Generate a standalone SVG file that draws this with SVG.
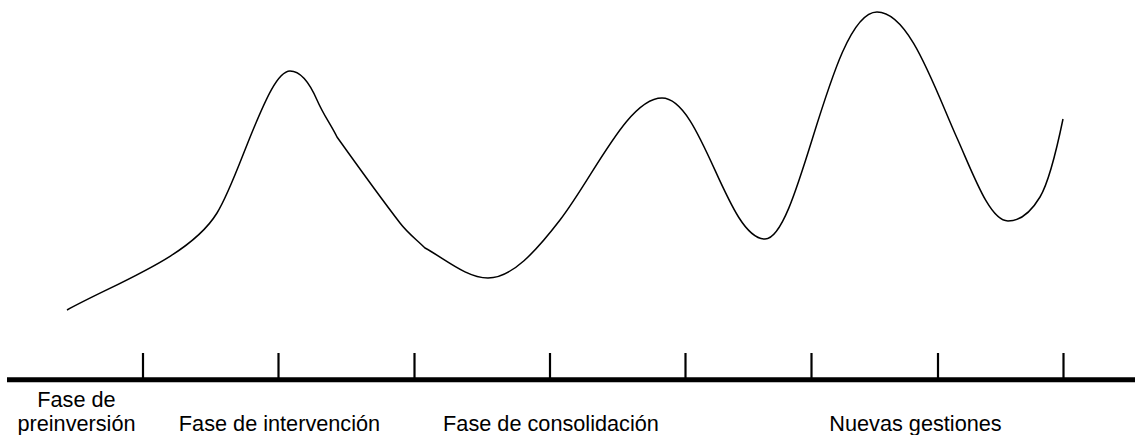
<svg xmlns="http://www.w3.org/2000/svg" width="1135" height="435" viewBox="0 0 1135 435">
  <style>
    .axis { stroke: #000; stroke-width: 5; fill: none; }
    .tick { stroke: #000; stroke-width: 2.2; fill: none; }
    .curve { stroke: #000; stroke-width: 1.5; fill: none; stroke-linejoin: round; stroke-linecap: butt; }
    .lbl { font-family: "Liberation Sans", Arial, sans-serif; font-size: 21.7px; fill: #000; text-anchor: middle; }
  </style>
  <rect x="0" y="0" width="1135" height="435" fill="#fff"/>
  <g id="curve">
    <path class="curve" d="M 67,310
      C 117,282.5 190,257 217,213
      C 229,193.8 241,158.8 253,130
      C 265.3,100.4 278,71 290,71
      C 299,71 308,79.3 317,100
      C 323.7,115.3 330.3,123.6 337,137
      C 358,166.4 379,195.7 400,223
      C 408.3,233.8 416.7,239.7 425,248
      C 446,259.6 467,278 488,278
      C 512,278 536,251.2 560,220
      C 594,175.8 628,98 662,98
      C 702,98 727,239 765,239
      C 800,239 830,12 877,12
      C 909,12 933,84 957,138
      C 974,176 990,221 1008,221
      C 1020,221 1031,212 1040,197
      C 1049,182 1057,148 1063,119"/>
  </g>
  <g id="axis">
    <line class="axis" x1="7" y1="379.8" x2="1135" y2="379.8"/>
    <line class="tick" x1="143" y1="353" x2="143" y2="378"/>
    <line class="tick" x1="278.5" y1="353" x2="278.5" y2="378"/>
    <line class="tick" x1="414.5" y1="353" x2="414.5" y2="378"/>
    <line class="tick" x1="550" y1="353" x2="550" y2="378"/>
    <line class="tick" x1="685.5" y1="353" x2="685.5" y2="378"/>
    <line class="tick" x1="811.5" y1="353" x2="811.5" y2="378"/>
    <line class="tick" x1="938" y1="353" x2="938" y2="378"/>
    <line class="tick" x1="1063.5" y1="353" x2="1063.5" y2="378"/>
  </g>
  <g id="labels">
    <text class="lbl" x="76.5" y="407">Fase de</text>
    <text class="lbl" x="76.5" y="431">preinversión</text>
    <text class="lbl" x="279.5" y="431">Fase de intervención</text>
    <text class="lbl" x="551" y="431">Fase de consolidación</text>
    <text class="lbl" x="915.5" y="431">Nuevas gestiones</text>
  </g>
</svg>
